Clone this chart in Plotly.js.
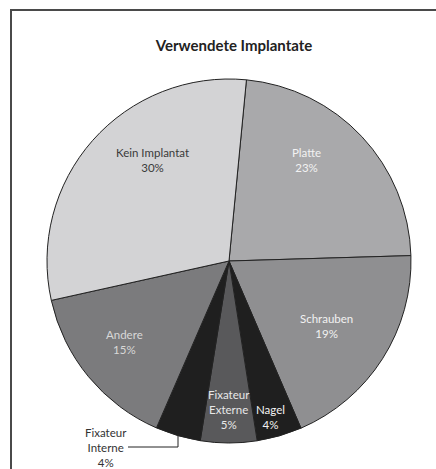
<!DOCTYPE html>
<html>
<head>
<meta charset="utf-8">
<script src="https://cdn.plot.ly/plotly-3.0.1.min.js"></script>
<style>
html,body{margin:0;padding:0;background:#fff;}
#chart{width:436px;height:469px;position:relative;}
#frame{position:absolute;left:10px;top:9px;width:440px;height:480px;border-left:2px solid #4a4a4a;border-top:2px solid #4a4a4a;pointer-events:none;}
</style>
</head>
<body>
<div id="chart"></div>
<div id="frame"></div>
<script>
var categories = ["Platte", "Schrauben", "Nagel", "Fixateur Externe", "Fixateur Interne", "Andere", "Kein Implantat"];
var sliceText = ["Platte", "Schrauben", "Nagel", "Fixateur<br>Externe", "Fixateur<br>Interne", "Andere", "Kein Implantat"];
var values = [23, 19, 4, 5, 4, 15, 30];
var colors = ["#a9a9ab", "#8f8f91", "#1f1f1f", "#59595b", "#1f1f1f", "#7b7b7d", "#d3d3d5"];
var textColors = ["#f2f2f2", "#f2f2f2", "#f2f2f2", "#e8e8e8", "#333333", "#d8d8d8", "#3a3a3a"];

var W = 436, H = 469;
var cx = 229, cy = 261, r = 182;
// label anchor positions in pixels (layout only)
var labelPx = [[306.5, 159.5], [326.5, 325.5], [270, 417], [229, 409], [106, 447], [124, 342], [152, 159.5]];
var FONT = "Lato, Open Sans, sans-serif";

var trace = {
  type: "pie",
  labels: categories,
  values: values,
  sort: false,
  direction: "clockwise",
  rotation: 5.5,
  marker: {colors: colors, line: {color: "#222222", width: 1}},
  textinfo: "none",
  hoverinfo: "none",
  showlegend: false,
  domain: {x: [(cx - r) / W, (cx + r) / W], y: [(H - cy - r) / H, (H - cy + r) / H]}
};

var annotations = categories.map(function (c, i) {
  return {
    text: sliceText[i] + "<br>" + values[i] + "%",
    x: labelPx[i][0] / W, y: 1 - labelPx[i][1] / H, xref: "paper", yref: "paper",
    xanchor: "center", yanchor: "middle",
    showarrow: false, align: "center",
    font: {family: FONT, size: 11.5, color: textColors[i]}
  };
});

var layout = {
  width: W, height: H,
  margin: {l: 0, r: 0, t: 0, b: 0},
  paper_bgcolor: "#ffffff",
  title: {text: "<b>Verwendete Implantate</b>", x: 234 / W, xanchor: "center", y: 1 - 46 / H, yanchor: "middle",
          font: {family: FONT, size: 15, color: "#222222"}},
  annotations: annotations,
  shapes: [{
    type: "path", xref: "paper", yref: "paper",
    path: "M " + (128 / W) + " " + (1 - 447 / H) + " L " + (178 / W) + " " + (1 - 447 / H) + " L " + (178 / W) + " " + (1 - 434 / H),
    line: {color: "#222222", width: 1}
  }]
};

Plotly.newPlot("chart", [trace], layout, {displayModeBar: false, staticPlot: true});
</script>
</body>
</html>
